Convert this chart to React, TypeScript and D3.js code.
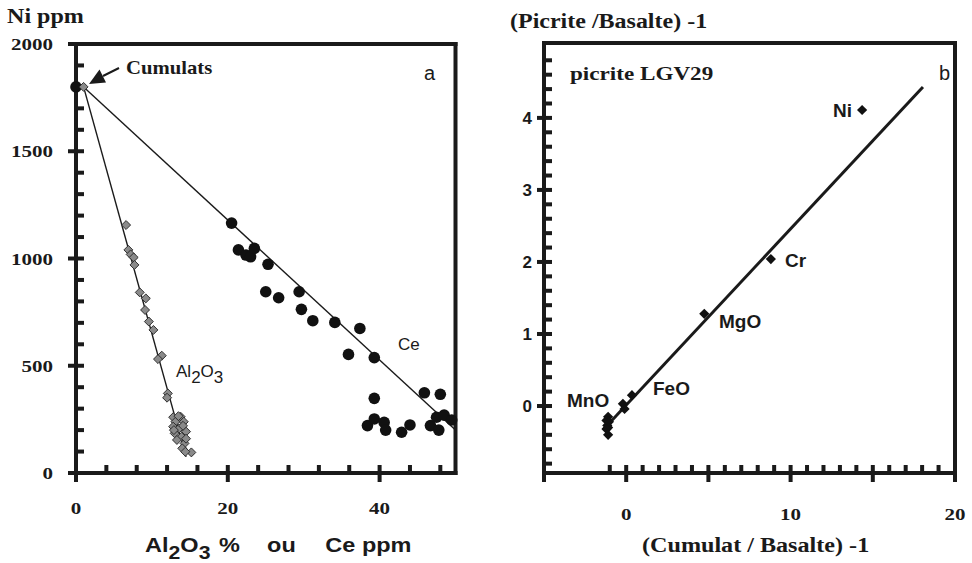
import React from "react";
import * as d3 from "d3";

// ---------- Data: panel a ----------
const ceX = [0, 20.5, 21.4, 22.4, 23.0, 23.5, 25.3, 25.0, 26.7, 29.4, 29.7, 31.2, 34.1, 37.4, 35.9, 39.3, 39.3, 38.4, 39.3, 40.6, 40.8, 42.9, 44.0, 45.9, 48.0, 46.7, 47.8, 47.5, 48.5, 49.5];
const ceY = [1800, 1165, 1040, 1016, 1008, 1047, 973, 845, 817, 845, 763, 710, 702, 674, 553, 538, 348, 221, 252, 236, 200, 190, 224, 374, 367, 221, 200, 260, 270, 247];

const alX = [1, 6.6, 6.9, 7.2, 7.6, 7.7, 8.4, 9.2, 9.1, 9.6, 10.2, 11.3, 10.8, 12.1, 12.0, 12.8, 13.8, 13.1, 14.2, 12.8, 13.6, 14.5, 13.0, 13.9, 13.3, 14.3, 14.0, 15.2, 14.4, 12.9, 13.5, 14.1, 14.5];
const alY = [1800, 1156, 1040, 1019, 1005, 970, 842, 814, 760, 706, 667, 547, 531, 371, 351, 260, 262, 239, 239, 216, 208, 193, 185, 169, 154, 138, 115, 96, 99, 200, 265, 220, 160];

const alLineX = [1, 14.5];
const alLineY = [1800, 75];
const ceLineX = [1, 50];
const ceLineY = [1800, 200];

const aYTickLabels = [0, 500, 1000, 1500, 2000];
const aXTickLabels = [0, 20, 40];

// ---------- Data: panel b ----------
const bX = [14.35, 8.8, 4.75, 0.35, -0.2, -0.1, -1.1, -1.2, -1.05, -1.15, -1.1, -1.2, -1.1];
const bY = [4.11, 2.04, 1.28, 0.15, 0.03, -0.04, -0.15, -0.2, -0.22, -0.27, -0.3, -0.32, -0.4];
const bLabels = ["Ni", "Cr", "MgO", "FeO", "MnO"];
const bLineX = [-1.4, 18.05];
const bLineY = [-0.33, 4.43];
const bYTickLabels = [0, 1, 2, 3, 4];
const bXTickLabels = [0, 10, 20];

const INK = "#1a1a1a";
const SERIF = "'Liberation Serif', 'Times New Roman', serif";
const SANS = "'Liberation Sans', Arial, sans-serif";

function T({ x, y, size, anchor = "start", sx = 1.2, weight = "bold", family = SERIF, children }: any) {
  return (
    <text
      transform={`translate(${x},${y}) scale(${sx},1)`}
      fontSize={size}
      fontWeight={weight}
      fontFamily={family}
      textAnchor={anchor}
      fill={INK}
    >
      {children}
    </text>
  );
}

const AW = 4; // axis / tick thickness
function HBar({ x1, x2, y, w = AW }: any) {
  const a = Math.min(x1, x2), b = Math.max(x1, x2);
  return <rect x={a} y={y - w / 2} width={b - a} height={w} fill={INK} />;
}
function VBar({ x, y1, y2, w = AW }: any) {
  const a = Math.min(y1, y2), b = Math.max(y1, y2);
  return <rect x={x - w / 2} y={a} width={w} height={b - a} fill={INK} />;
}

export default function App() {
  // panel a scales
  const xA = d3.scaleLinear().domain([0, 50]).range([76, 455.5]);
  const yA = d3.scaleLinear().domain([0, 2000]).range([473, 44]);
  // panel b scales
  const xB = d3.scaleLinear().domain([-5, 20]).range([544, 955]);
  const yB = d3.scaleLinear().domain([-0.93, 5.04]).range([473, 43]);

  const dA = d3.symbol().type(d3.symbolSquare).size(40)() as string;
  const dB = d3.symbol().type(d3.symbolSquare).size(52)() as string;

  const aMinorY = d3.range(100, 2000, 100).filter((v) => v % 500 !== 0);
  const aMajorY = d3.range(500, 2000, 500);
  const aMinorX = d3.range(4, 50, 4).filter((v) => v % 20 !== 0);
  const aMajorX = [20, 40];

  const bMinorY = d3.range(-0.8, 5.0, 0.2).filter((v) => Math.abs(v - Math.round(v)) > 0.01);
  const bMajorY = [0, 1, 2, 3, 4];
  const bMinorX = d3.range(-1, 20, 1).filter((v) => v % 5 !== 0);
  const bMajorX = [0, 5, 10, 15];

  const lineGen = d3.line<[number, number]>();

  const a0 = yA(0), aTop = yA(2000), aL = xA(0), aR = xA(50);
  const b0 = yB(-0.93), bTop = yB(5.04), bL = xB(-5), bR = xB(20);
  const hw = AW / 2;
  const tk = 8;

  return (
    <svg width={972} height={563} style={{ position: "absolute", left: 0, top: 0, background: "#fff" }}>
      <rect x={0} y={0} width={972} height={563} fill="#fff" />

      {/* ===================== Panel a ===================== */}
      <HBar x1={68} x2={aR + hw} y={aTop} />
      <VBar x={aR} y1={aTop - hw} y2={a0 + hw} />
      <HBar x1={68} x2={aR + hw} y={a0} />
      <VBar x={aL} y1={aTop - hw} y2={a0 + 9} />
      {aMinorY.map((v) => (
        <HBar key={"amy" + v} x1={aL} x2={aL + tk} y={yA(v)} />
      ))}
      {aMajorY.map((v) => (
        <HBar key={"aMy" + v} x1={68} x2={aL + tk} y={yA(v)} />
      ))}
      {aMinorX.map((v) => (
        <VBar key={"amx" + v} x={xA(v)} y1={a0} y2={a0 - tk} />
      ))}
      {aMajorX.map((v) => (
        <VBar key={"aMx" + v} x={xA(v)} y1={a0 - tk} y2={a0 + 9} />
      ))}

      {/* trend lines */}
      <path
        d={lineGen(alLineX.map((x, i) => [xA(x), yA(alLineY[i])]) as any) as string}
        stroke={INK}
        strokeWidth={1.4}
        fill="none"
      />
      <path
        d={lineGen(ceLineX.map((x, i) => [xA(x), yA(ceLineY[i])]) as any) as string}
        stroke={INK}
        strokeWidth={1.4}
        fill="none"
      />

      {/* Ce circles */}
      {ceX.map((x, i) => (
        <circle key={"ce" + i} cx={xA(x)} cy={yA(ceY[i])} r={5.8} fill="#111" />
      ))}
      {/* Al2O3 diamonds */}
      {alX.map((x, i) => (
        <path
          key={"al" + i}
          d={dA}
          transform={`translate(${xA(x)},${yA(alY[i])}) rotate(45)`}
          fill="#8a8a8a"
          stroke="#2a2a2a"
          strokeWidth={0.9}
        />
      ))}

      {/* tick labels a */}
      {aYTickLabels.map((v) => (
        <T key={"ayl" + v} x={53} y={yA(v) + 6} size={17.5} anchor="end">
          {v}
        </T>
      ))}
      {aXTickLabels.map((v) => (
        <T key={"axl" + v} x={xA(v)} y={514} size={17.5} anchor="middle">
          {v}
        </T>
      ))}

      <T x={7} y={23} size={21.5} sx={1.12}>Ni ppm</T>

      {/* Cumulats annotation */}
      <path d="M89,84 L99.5,69.5 L106,82.5 Z" fill={INK} />
      <line x1={103} x2={119} y1={76} y2={68} stroke={INK} strokeWidth={2} />
      <T x={126} y={74} size={18.5} sx={1.12}>Cumulats</T>

      <text x={424} y={80} fontSize={20} fontFamily={SANS} fill={INK}>a</text>

      <text x={176} y={377} fontSize={17} fontFamily={SANS} fill={INK}>
        Al<tspan dy={6}>2</tspan>
        <tspan dy={-6}>O</tspan>
        <tspan dy={6}>3</tspan>
      </text>
      <text x={398} y={350} fontSize={17} fontFamily={SANS} fill={INK}>Ce</text>

      <g transform="translate(145,552) scale(1.12,1)">
        <text y={0} fontSize={21} fontWeight="bold" fontFamily={SANS} fill={INK}>
          <tspan x={0}>Al</tspan>
          <tspan fontSize={19} dy={7}>2</tspan>
          <tspan dy={-7}>O</tspan>
          <tspan fontSize={19} dy={7}>3</tspan>
          <tspan x={66} dy={-7}>%</tspan>
          <tspan x={109}>ou</tspan>
          <tspan x={161}>Ce ppm</tspan>
        </text>
      </g>

      {/* ===================== Panel b ===================== */}
      <HBar x1={bL - hw} x2={bR + hw} y={bTop} />
      <VBar x={bR} y1={bTop - hw} y2={b0 + 9} />
      <HBar x1={bL} x2={bR} y={b0} />
      <VBar x={bL} y1={bTop - hw} y2={b0 + 9} />
      {bMinorY.map((v, i) => (
        <HBar key={"bmy" + i} x1={bL} x2={bL + tk} y={yB(v)} />
      ))}
      {bMajorY.map((v) => (
        <HBar key={"bMy" + v} x1={bL - 7} x2={bL + tk} y={yB(v)} />
      ))}
      {bMinorX.map((v) => (
        <VBar key={"bmx" + v} x={xB(v)} y1={b0} y2={b0 - tk} />
      ))}
      {bMajorX.map((v) => (
        <VBar key={"bMx" + v} x={xB(v)} y1={b0 - tk} y2={b0 + 9} />
      ))}

      <path
        d={lineGen(bLineX.map((x, i) => [xB(x), yB(bLineY[i])]) as any) as string}
        stroke={INK}
        strokeWidth={3}
        fill="none"
      />
      {bX.map((x, i) => (
        <path
          key={"b" + i}
          d={dB}
          transform={`translate(${xB(x)},${yB(bY[i])}) rotate(45)`}
          fill="#111"
        />
      ))}

      {bYTickLabels.map((v) => (
        <text key={"byl" + v} x={532} y={yB(v) + 6} fontSize={17} fontWeight="bold" fontFamily={SANS} textAnchor="end" fill={INK}>
          {v}
        </text>
      ))}
      {bXTickLabels.map((v) => (
        <T key={"bxl" + v} x={xB(v)} y={520} size={17.5} anchor="middle">
          {v}
        </T>
      ))}

      <text x={852} y={117} fontSize={19} fontWeight="bold" fontFamily={SANS} textAnchor="end" fill={INK}>{bLabels[0]}</text>
      <text x={785} y={267} fontSize={19} fontWeight="bold" fontFamily={SANS} fill={INK}>{bLabels[1]}</text>
      <text x={719} y={328} fontSize={19} fontWeight="bold" fontFamily={SANS} fill={INK}>{bLabels[2]}</text>
      <text x={653} y={395} fontSize={19} fontWeight="bold" fontFamily={SANS} fill={INK}>{bLabels[3]}</text>
      <text x={567} y={407} fontSize={19} fontWeight="bold" fontFamily={SANS} fill={INK}>{bLabels[4]}</text>

      <text x={939} y={80} fontSize={20} fontFamily={SANS} fill={INK}>b</text>

      <T x={510} y={28} size={20} sx={1.2}>(Picrite /Basalte) -1</T>
      <T x={570} y={80} size={18.5} sx={1.25}>picrite LGV29</T>
      <T x={642} y={552} size={21} sx={1.15}>(Cumulat / Basalte) -1</T>
    </svg>
  );
}
